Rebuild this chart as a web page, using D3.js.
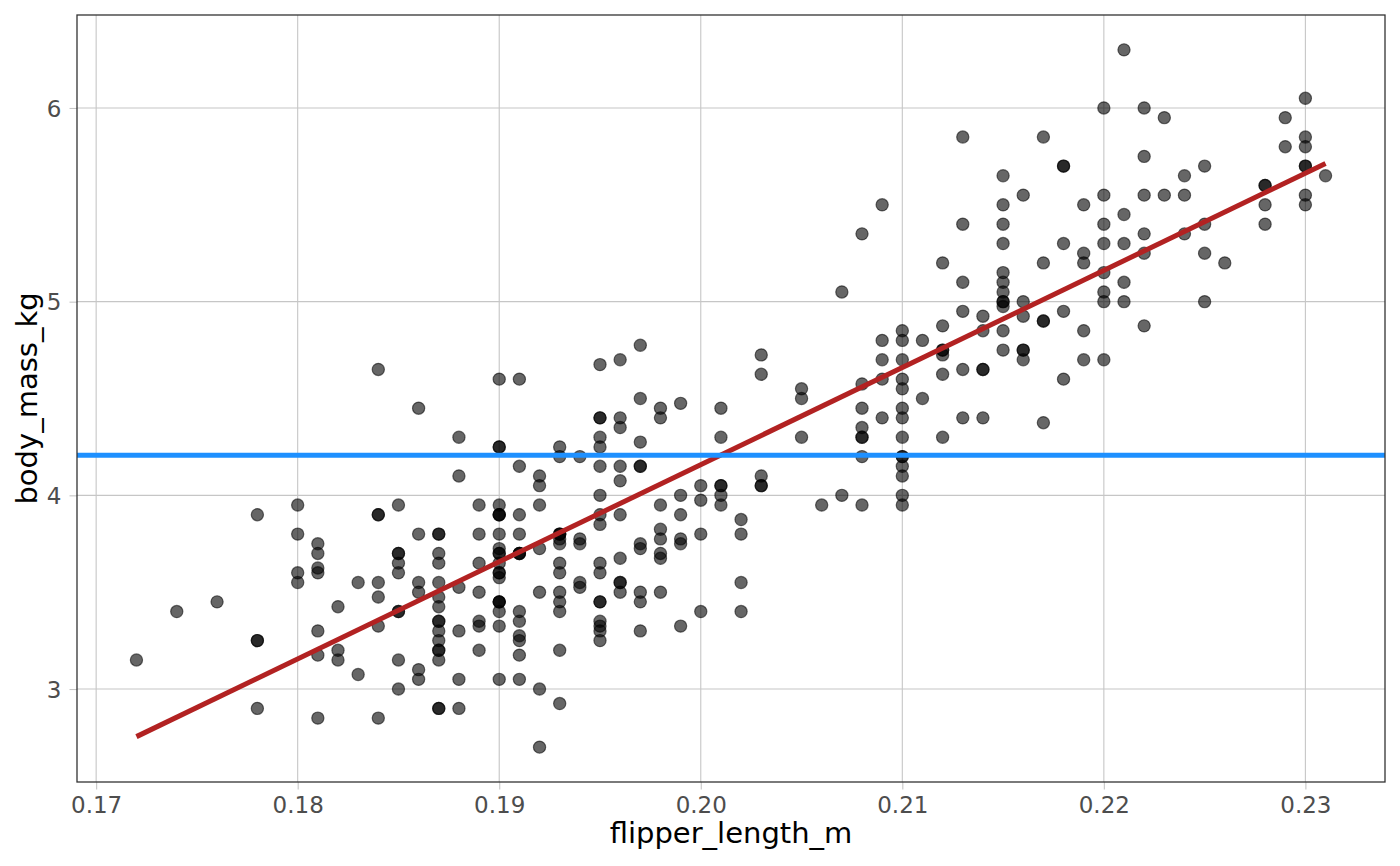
<!DOCTYPE html>
<html>
<head>
<meta charset="utf-8">
<script src="https://cdn.jsdelivr.net/npm/d3@7/dist/d3.min.js"></script>
<style>
  html, body { margin: 0; padding: 0; background: #ffffff; }
  svg { display: block; }
</style>
</head>
<body>
<svg id="chart" width="1400" height="866"></svg>
<script>
// Palmer penguins (complete cases): flipper length (mm) and body mass (g)
const flipperLengthMm = [
  181,186,195,193,190,181,195,182,191,198,185,195,197,184,194,174,180,189,185,180,
  187,183,187,172,180,178,178,188,184,195,196,190,180,181,184,182,195,186,196,185,
  190,182,190,191,186,188,190,200,187,191,186,193,181,194,185,195,185,192,184,192,
  195,188,190,198,190,190,196,197,190,195,191,184,187,195,189,196,187,193,191,194,
  190,189,189,190,202,205,185,186,187,208,190,196,178,192,192,203,183,190,193,184,
  199,190,181,197,198,191,193,197,191,196,188,199,189,189,187,198,176,202,186,199,
  191,195,191,210,190,197,193,199,187,190,191,200,185,193,193,187,188,190,192,185,
  190,184,195,193,187,201,
  211,230,210,218,215,210,211,219,209,215,214,216,214,213,210,217,210,221,209,222,
  218,215,213,215,215,215,215,210,220,222,209,207,230,220,220,213,219,208,208,208,
  225,210,216,222,217,210,225,213,215,210,220,210,225,217,220,208,220,208,224,208,
  221,214,231,219,230,229,220,223,216,221,221,217,216,230,209,220,215,223,212,221,
  212,224,212,228,218,218,212,230,218,228,212,224,214,226,216,222,203,225,219,228,
  215,228,215,210,219,208,209,216,229,213,230,217,230,222,214,215,222,212,213,
  192,196,193,188,197,198,178,197,195,198,193,194,185,201,190,201,197,181,190,195,
  181,191,187,193,195,197,200,200,191,205,187,201,187,203,195,199,195,210,192,205,
  210,187,196,196,196,201,190,212,187,198,199,201,193,203,187,197,191,203,202,194,
  206,189,195,207,202,193,210,198
];
const bodyMassG = [
  3750,3800,3250,3450,3650,3625,4675,3200,3800,4400,3700,3450,4500,3325,4200,3400,3600,3800,3950,3800,
  3800,3550,3200,3150,3950,3250,3900,3300,3900,3325,4150,3950,3550,3300,4650,3150,3900,3100,4400,3000,
  4600,3425,3450,4150,3500,4300,3450,4050,2900,3700,3550,3800,2850,3750,3150,4400,3600,4050,2850,3950,
  3350,4100,3050,4450,3600,3900,3550,4150,3700,4250,3700,3900,3550,4000,3200,4700,3800,4200,3350,3550,
  3800,3500,3950,3600,3550,4300,3400,4450,3300,4300,3700,4350,2900,4100,3725,4725,3075,4250,2925,3550,
  3750,3900,3175,4775,3825,4600,3200,4275,3900,4075,2900,3775,3350,3325,3150,3500,3450,3875,3050,4000,
  3275,4300,3050,4000,3325,3500,3500,4475,3425,3900,3175,3975,3400,4250,3400,3475,3050,3725,3000,3650,
  4250,3475,3450,3750,3700,4000,
  4500,5700,4450,5700,5400,4550,4800,5200,4400,5150,4650,5550,4650,5850,4200,5850,4150,6300,4800,5350,
  5700,5000,4400,5050,5000,5100,5650,4600,5550,5250,4700,5050,6050,5150,5400,4950,5250,4350,5350,3950,
  5700,4300,4750,5550,4900,4200,5400,5100,5300,4850,5300,4400,5000,4900,5050,4300,5000,4450,5550,4200,
  5300,4400,5650,4700,5700,5800,4700,5550,4750,5000,5100,5200,4700,5800,4600,6000,4750,5950,4625,5450,
  4725,5350,4750,5600,4600,5300,4875,5550,4950,5400,4750,5650,4850,5200,4925,4875,4625,5250,4850,5600,
  4975,5500,5500,4700,5500,4575,5500,5000,5950,4650,5500,4375,5850,6000,4925,4850,5750,5200,5400,
  3500,3900,3650,3525,3725,3950,3250,3750,4150,3700,3800,3775,3700,4050,3575,4050,3300,3700,3450,4400,
  3600,3400,2900,3800,3300,4150,3400,3800,3700,4550,3200,4300,3350,4100,3600,3900,3850,4800,2700,4500,
  3950,3650,3550,3500,3675,4450,3400,4300,3250,3675,3325,3950,3600,4050,3350,3450,3250,4050,3800,3525,
  3950,3650,3650,4000,3400,3775,4100,3775
];

const xTicks = [0.17, 0.18, 0.19, 0.20, 0.21, 0.22, 0.23];
const yTicks = [3, 4, 5, 6];
const xTitle = "flipper_length_m";
const yTitle = "body_mass_kg";

const data = flipperLengthMm.map((f, i) => ({ x: f / 1000, y: bodyMassG[i] / 1000 }));

// layout
const panel = { left: 77, right: 1385, top: 15, bottom: 782 };
const svg = d3.select("#chart");
svg.append("rect").attr("width", 1400).attr("height", 866).attr("fill", "#ffffff");

function expand(ext) {
  const r = ext[1] - ext[0];
  return [ext[0] - 0.05 * r, ext[1] + 0.05 * r];
}
const xExt = d3.extent(data, d => d.x);
const yExt = d3.extent(data, d => d.y);
const x = d3.scaleLinear().domain(expand(xExt)).range([panel.left, panel.right]);
const y = d3.scaleLinear().domain(expand(yExt)).range([panel.bottom, panel.top]);

const font = "'DejaVu Sans', sans-serif";
const gridColor = "#c6c6c6";

// grid
const grid = svg.append("g");
grid.selectAll("line.vx").data(xTicks).join("line")
  .attr("x1", d => x(d)).attr("x2", d => x(d))
  .attr("y1", panel.top).attr("y2", panel.bottom)
  .attr("stroke", gridColor).attr("stroke-width", 1.1);
grid.selectAll("line.hy").data(yTicks).join("line")
  .attr("y1", d => y(d)).attr("y2", d => y(d))
  .attr("x1", panel.left).attr("x2", panel.right)
  .attr("stroke", gridColor).attr("stroke-width", 1.1);

// axes via d3 axis
const xAxis = d3.axisBottom(x).tickValues(xTicks).tickFormat(d3.format(".2f"))
  .tickSize(7.5).tickPadding(6);
const yAxis = d3.axisLeft(y).tickValues(yTicks).tickFormat(d3.format("d"))
  .tickSize(7.5).tickPadding(6);

const gx = svg.append("g").attr("transform", `translate(0,${panel.bottom})`).call(xAxis);
const gy = svg.append("g").attr("transform", `translate(${panel.left},0)`).call(yAxis);
[gx, gy].forEach(g => {
  g.select(".domain").remove();
  g.selectAll(".tick line").attr("stroke", gridColor).attr("stroke-width", 1.1);
  g.selectAll(".tick text").attr("fill", "#4d4d4d")
    .style("font-family", font).style("font-size", "23px");
});
gx.selectAll(".tick text").attr("dy", null).attr("y", 30.5);
gy.selectAll(".tick text").attr("dy", "0.36em").attr("x", -15.5);

// points
svg.append("g").selectAll("circle").data(data).join("circle")
  .attr("cx", d => x(d.x)).attr("cy", d => y(d.y)).attr("r", 6.1)
  .attr("fill", "#000000").attr("fill-opacity", 0.6)
  .attr("stroke", "#000000").attr("stroke-opacity", 0.55).attr("stroke-width", 1.2);

// linear fit
const mx = d3.mean(data, d => d.x), my = d3.mean(data, d => d.y);
const sxy = d3.sum(data, d => (d.x - mx) * (d.y - my));
const sxx = d3.sum(data, d => (d.x - mx) ** 2);
const slope = sxy / sxx, intercept = my - slope * mx;
const fitPts = xExt.map(v => [v, intercept + slope * v]);
svg.append("path")
  .attr("d", d3.line().x(d => x(d[0])).y(d => y(d[1]))(fitPts))
  .attr("stroke", "#B22222").attr("stroke-width", 5).attr("fill", "none");

// mean line
svg.append("line")
  .attr("x1", panel.left).attr("x2", panel.right)
  .attr("y1", y(my)).attr("y2", y(my))
  .attr("stroke", "#1E90FF").attr("stroke-width", 5);

// panel border
svg.append("rect")
  .attr("x", panel.left).attr("y", panel.top)
  .attr("width", panel.right - panel.left).attr("height", panel.bottom - panel.top)
  .attr("fill", "none").attr("stroke", "#333333").attr("stroke-width", 1.3);

// titles
svg.append("text").text(xTitle)
  .attr("x", (panel.left + panel.right) / 2).attr("y", 843)
  .attr("text-anchor", "middle").attr("fill", "#000")
  .style("font-family", font).style("font-size", "29px");
svg.append("text").text(yTitle)
  .attr("transform", `translate(36.5,${(panel.top + panel.bottom) / 2}) rotate(-90)`)
  .attr("text-anchor", "middle").attr("fill", "#000")
  .style("font-family", font).style("font-size", "29px");
</script>
</body>
</html>
